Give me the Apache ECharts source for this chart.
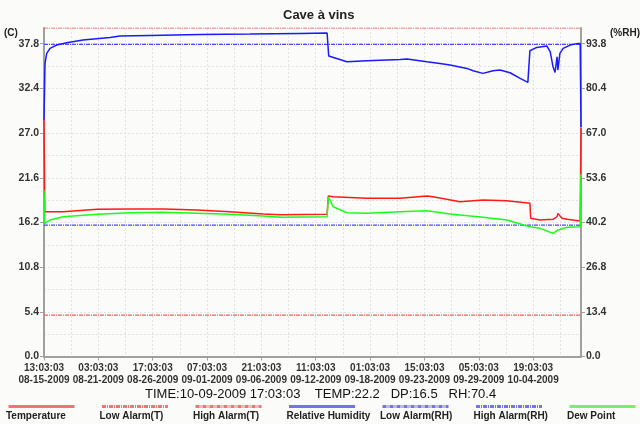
<!DOCTYPE html>
<html>
<head>
<meta charset="utf-8">
<script src="https://cdn.jsdelivr.net/npm/echarts@6/dist/echarts.min.js"></script>
<style>
  html, body { margin: 0; padding: 0; background: #fbfbf9; }
  #chart { width: 640px; height: 424px; }
</style>
</head>
<body>
<div id="chart"></div>
<script>
// hours since 08-15-2009 13:03:03
var START = Date.UTC(2009, 7, 15, 13, 3, 3);
var SPAN_HOURS = 1324;
var TICK_HOURS = 134;

var rhHours = [0, 2.5, 6.7, 14.8, 31, 56, 96, 163, 187, 261, 385, 508, 631, 698, 702, 705, 747, 796, 878, 895, 944, 976, 1001, 1043, 1058, 1082, 1107, 1124, 1149, 1174, 1193, 1198, 1215, 1240, 1248, 1255, 1260, 1265, 1267, 1272, 1280, 1297, 1317, 1322, 1324];
var rhValues = [70.9, 87.9, 90.9, 92.4, 93.4, 94.1, 94.9, 95.7, 96.1, 96.3, 96.6, 96.7, 96.9, 97.0, 90.1, 90.0, 88.4, 88.7, 89.1, 89.2, 88.4, 87.9, 87.4, 86.4, 85.7, 84.9, 85.7, 85.9, 85.1, 83.4, 82.2, 91.7, 92.7, 93.1, 91.4, 86.9, 85.2, 89.9, 85.9, 90.9, 92.4, 93.4, 93.9, 93.9, 68.8];

var tempHours = [0, 2, 47, 131, 212, 293, 377, 458, 540, 582, 698, 701, 713, 796, 878, 944, 959, 1026, 1082, 1141, 1198, 1200, 1223, 1255, 1265, 1267, 1277, 1290, 1317, 1322, 1324];
var tempValues = [28.6, 17.5, 17.5, 17.79, 17.82, 17.82, 17.7, 17.5, 17.22, 17.13, 17.18, 19.39, 19.31, 19.12, 19.12, 19.39, 19.31, 18.7, 18.91, 18.83, 18.51, 16.7, 16.49, 16.58, 16.9, 17.3, 16.7, 16.58, 16.41, 16.4, 27.6];

var dpHours = [0, 2, 15, 47, 131, 212, 293, 377, 458, 540, 582, 698, 701, 703, 713, 747, 796, 878, 944, 1001, 1082, 1141, 1198, 1223, 1255, 1267, 1290, 1317, 1322, 1324];
var dpValues = [20.1, 16.09, 16.49, 16.89, 17.18, 17.38, 17.42, 17.3, 17.18, 16.98, 16.82, 16.89, 19.31, 19.12, 18.1, 17.38, 17.3, 17.5, 17.62, 17.22, 16.82, 16.49, 15.68, 15.49, 14.89, 15.29, 15.61, 15.68, 15.7, 22.05];

var lowAlarmT = 5.0;
var highAlarmT = 39.7;
var lowAlarmRH = 39.4;
var highAlarmRH = 93.6;

var tempMax = 39.7;
var rhMax = tempMax * 93.8 / 37.8;

var legendNames = ['Temperature', 'Low Alarm(T)', 'High Alarm(T)', 'Relative Humidity', 'Low Alarm(RH)', 'High Alarm(RH)', 'Dew Point'];
var legendColors = ['#f47272', '#f47272', '#f47272', '#7272f4', '#7272f4', '#7272f4', '#72f272'];
var legendDotted = [false, true, true, false, true, true, false];

var statusText = 'TIME:10-09-2009 17:03:03    TEMP:22.2   DP:16.5   RH:70.4';

function pair(xs, ys) {
  return xs.map(function (x, i) { return [x, ys[i]]; });
}
function flat(v) {
  return [[0, v], [SPAN_HOURS, v]];
}
function pad(n) { return n < 10 ? '0' + n : '' + n; }
function fmtHour(v) {
  var d = new Date(START + v * 3600000);
  return pad(d.getUTCHours()) + ':' + pad(d.getUTCMinutes()) + ':' + pad(d.getUTCSeconds()) + '\n' +
    pad(d.getUTCMonth() + 1) + '-' + pad(d.getUTCDate()) + '-' + d.getUTCFullYear();
}

var font = 'Liberation Sans';
var gridLine = { show: true, lineStyle: { color: '#e2e2e2', type: [2, 2], width: 1 } };
var axisLbl = { fontFamily: font, fontWeight: 'bold', fontSize: 10.5, color: '#333' };

function curve(name, axis, data, color) {
  return {
    name: name, type: 'line', yAxisIndex: axis, data: data,
    showSymbol: false, silent: true,
    lineStyle: { color: color, width: 1.5 },
    itemStyle: { color: color }
  };
}
function alarm(name, axis, value, color) {
  return {
    name: name, type: 'line', yAxisIndex: axis, data: flat(value),
    showSymbol: false, silent: true,
    lineStyle: { color: color, width: 1.2, type: [4, 1, 1, 1] },
    itemStyle: { color: color }
  };
}

var graphics = [];
legendNames.forEach(function (name, i) {
  var x = 6 + i * 93.5;
  graphics.push({
    type: 'line', left: x, top: 404,
    shape: { x1: 0, y1: 0, x2: 66, y2: 0 },
    style: { stroke: legendColors[i], lineWidth: 3, lineDash: legendDotted[i] ? [4, 1, 1, 1] : null }
  });
  graphics.push({
    type: 'text', left: x, top: 411,
    style: { text: name, font: 'bold 10px "' + font + '"', fill: '#222' }
  });
});
graphics.push({
  type: 'text', left: 145, top: 388,
  style: { text: statusText, font: '13px "' + font + '"', fill: '#111' }
});
graphics.push({
  type: 'text', left: 4, top: 28,
  style: { text: '(C)', font: 'bold 10px "' + font + '"', fill: '#222' }
});
graphics.push({
  type: 'text', left: 610, top: 28,
  style: { text: '(%RH)', font: 'bold 10px "' + font + '"', fill: '#222' }
});

var chart = echarts.init(document.getElementById('chart'));
chart.setOption({
  backgroundColor: '#fbfbf9',
  animation: false,
  title: {
    text: 'Cave à vins',
    left: 278,
    top: 4,
    textStyle: { fontFamily: font, fontWeight: 'bold', fontSize: 13, color: '#222' }
  },
  grid: { left: 44, right: 59, top: 28, bottom: 67.5 },
  xAxis: {
    type: 'value',
    min: 0,
    max: SPAN_HOURS,
    interval: TICK_HOURS,
    axisLine: { lineStyle: { color: '#a0a0a0', width: 2 } },
    axisTick: { show: true, length: 4, lineStyle: { color: '#a0a0a0' } },
    axisLabel: Object.assign({}, axisLbl, { fontSize: 10, formatter: fmtHour, margin: 5, lineHeight: 12.5, showMinLabel: true, showMaxLabel: false, hideOverlap: false }),
    splitLine: gridLine,
    minorTick: { show: false, splitNumber: 2 },
    minorSplitLine: gridLine
  },
  yAxis: [
    {
      type: 'value',
      min: 0,
      max: tempMax,
      interval: 5.4,
      axisLine: { show: true, lineStyle: { color: '#a0a0a0', width: 2 } },
      axisTick: { show: true, length: 4, lineStyle: { color: '#a0a0a0' } },
      axisLabel: Object.assign({ formatter: function (v) { return v.toFixed(1); }, margin: 5, showMaxLabel: false }, axisLbl),
      splitLine: gridLine,
      minorTick: { show: false, splitNumber: 2 },
      minorSplitLine: gridLine
    },
    {
      type: 'value',
      min: 0,
      max: rhMax,
      interval: 13.4,
      position: 'right',
      axisLine: { show: true, lineStyle: { color: '#a0a0a0', width: 2 } },
      axisTick: { show: true, length: 4, lineStyle: { color: '#a0a0a0' } },
      axisLabel: Object.assign({ formatter: function (v) { return v.toFixed(1); }, margin: 5, showMaxLabel: false }, axisLbl),
      splitLine: { show: false }
    }
  ],
  series: [
    alarm('High Alarm(T)', 0, highAlarmT, '#ff5a5a'),
    alarm('Low Alarm(T)', 0, lowAlarmT, '#ff5a5a'),
    alarm('High Alarm(RH)', 1, highAlarmRH, '#4a4aff'),
    alarm('Low Alarm(RH)', 1, lowAlarmRH, '#4a4aff'),
    curve('Relative Humidity', 1, pair(rhHours, rhValues), '#1a1aff'),
    curve('Temperature', 0, pair(tempHours, tempValues), '#ff1a1a'),
    curve('Dew Point', 0, pair(dpHours, dpValues), '#1aff1a')
  ],
  graphic: graphics
});
</script>
</body>
</html>
